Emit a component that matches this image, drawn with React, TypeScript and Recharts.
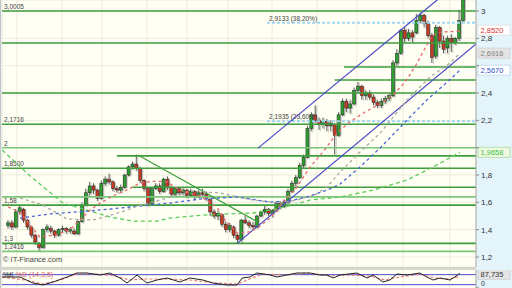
import React from "react";
import { Bar, CartesianGrid, ComposedChart, Line, ReferenceLine, XAxis, YAxis } from "recharts";

// daily candles, oldest first
const opens = [
  1.43, 1.45, 1.42, 1.53, 1.55, 1.47, 1.42, 1.36, 1.3, 1.27,
  1.4, 1.41, 1.39, 1.36, 1.4, 1.41, 1.39, 1.39, 1.37, 1.46,
  1.58, 1.67, 1.72, 1.69, 1.63, 1.74, 1.77, 1.75, 1.7, 1.69,
  1.71, 1.8, 1.86, 1.88, 1.85, 1.76, 1.7, 1.59, 1.7, 1.72,
  1.68, 1.77, 1.71, 1.66, 1.7, 1.67, 1.69, 1.65, 1.68, 1.64,
  1.67, 1.66, 1.62, 1.53, 1.5, 1.51, 1.44, 1.4, 1.42, 1.36,
  1.33, 1.47, 1.45, 1.43, 1.42, 1.5, 1.53, 1.55, 1.52, 1.54,
  1.59, 1.57, 1.6, 1.68, 1.74, 1.78, 1.87, 1.93, 2.14, 2.24,
  2.2, 2.17, 2.19, 2.16, 2.17, 2.09, 2.24, 2.34, 2.29, 2.32,
  2.42, 2.45, 2.38, 2.4, 2.37, 2.33, 2.31, 2.34, 2.36, 2.38,
  2.62, 2.69, 2.86, 2.8, 2.84, 2.84, 2.93, 2.97, 2.91, 2.82,
  2.67, 2.88, 2.78, 2.73, 2.8, 2.77, 2.8, 2.93,
];
const closes = [
  1.45, 1.42, 1.53, 1.56, 1.47, 1.42, 1.36, 1.31, 1.27, 1.4,
  1.42, 1.39, 1.36, 1.4, 1.41, 1.39, 1.4, 1.37, 1.46, 1.58,
  1.67, 1.72, 1.69, 1.63, 1.74, 1.77, 1.75, 1.7, 1.69, 1.71,
  1.8, 1.86, 1.88, 1.85, 1.76, 1.7, 1.59, 1.7, 1.72, 1.68,
  1.77, 1.71, 1.66, 1.7, 1.67, 1.69, 1.65, 1.68, 1.64, 1.67,
  1.66, 1.63, 1.53, 1.5, 1.52, 1.44, 1.4, 1.43, 1.36, 1.33,
  1.47, 1.45, 1.43, 1.42, 1.5, 1.53, 1.55, 1.52, 1.54, 1.59,
  1.57, 1.6, 1.68, 1.74, 1.78, 1.87, 1.93, 2.14, 2.24, 2.2,
  2.17, 2.19, 2.16, 2.18, 2.09, 2.24, 2.34, 2.29, 2.32, 2.42,
  2.45, 2.38, 2.4, 2.37, 2.33, 2.31, 2.34, 2.36, 2.38, 2.62,
  2.69, 2.86, 2.8, 2.84, 2.81, 2.93, 2.97, 2.91, 2.82, 2.66,
  2.88, 2.78, 2.72, 2.8, 2.77, 2.8, 2.93, 3.1,
];
const highs = [
  1.47, 1.47, 1.55, 1.58, 1.56, 1.48, 1.43, 1.37, 1.31, 1.41,
  1.44, 1.43, 1.4, 1.41, 1.43, 1.42, 1.42, 1.41, 1.47, 1.6,
  1.7, 1.75, 1.74, 1.7, 1.76, 1.79, 1.81, 1.76, 1.72, 1.73,
  1.81, 1.87, 1.9, 1.95, 1.86, 1.77, 1.71, 1.71, 1.74, 1.74,
  1.78, 1.79, 1.72, 1.71, 1.71, 1.71, 1.7, 1.7, 1.69, 1.69,
  1.7, 1.68, 1.63, 1.55, 1.54, 1.52, 1.46, 1.45, 1.43, 1.37,
  1.48, 1.5, 1.47, 1.46, 1.51, 1.54, 1.58, 1.56, 1.55, 1.61,
  1.61, 1.62, 1.7, 1.76, 1.8, 1.89, 1.95, 2.16, 2.26, 2.31,
  2.22, 2.22, 2.21, 2.2, 2.18, 2.26, 2.36, 2.36, 2.35, 2.44,
  2.48, 2.46, 2.42, 2.42, 2.39, 2.35, 2.36, 2.38, 2.4, 2.64,
  2.72, 2.87, 2.88, 2.87, 2.86, 2.98, 2.99, 2.98, 2.93, 2.84,
  2.9, 2.89, 2.82, 2.82, 2.83, 2.81, 3.01, 3.12,
];
const lows = [
  1.41, 1.4, 1.41, 1.51, 1.45, 1.4, 1.34, 1.29, 1.24, 1.26,
  1.38, 1.37, 1.34, 1.35, 1.38, 1.37, 1.37, 1.36, 1.36, 1.45,
  1.57, 1.65, 1.66, 1.61, 1.62, 1.72, 1.73, 1.68, 1.67, 1.67,
  1.7, 1.79, 1.84, 1.83, 1.74, 1.68, 1.57, 1.58, 1.69, 1.66,
  1.67, 1.69, 1.64, 1.64, 1.65, 1.65, 1.63, 1.64, 1.62, 1.63,
  1.64, 1.61, 1.5, 1.48, 1.47, 1.42, 1.38, 1.38, 1.34, 1.3,
  1.31, 1.44, 1.41, 1.4, 1.41, 1.49, 1.51, 1.5, 1.49, 1.53,
  1.55, 1.56, 1.59, 1.67, 1.72, 1.77, 1.85, 1.92, 2.12, 2.18,
  2.13, 2.14, 2.12, 2.12, 1.95, 2.08, 2.23, 2.26, 2.25, 2.31,
  2.4, 2.35, 2.35, 2.35, 2.31, 2.29, 2.29, 2.32, 2.34, 2.37,
  2.6, 2.68, 2.77, 2.78, 2.77, 2.83, 2.91, 2.88, 2.8, 2.62,
  2.65, 2.73, 2.69, 2.69, 2.7, 2.75, 2.78, 2.92,
];

// moving averages, [candle index, value]
const maRed: [number, number][] = [
  [0, 1.566], [3.1, 1.529], [5.7, 1.434], [8.2, 1.346], [12.1, 1.361], [15.9, 1.398],
  [18.5, 1.471], [21.1, 1.544], [23.7, 1.595], [27.5, 1.654], [30.6, 1.69], [33.9, 1.741],
  [37.8, 1.756], [40.9, 1.749], [44.2, 1.69], [49.4, 1.646], [53.7, 1.566], [55.8, 1.471],
  [58.9, 1.376], [62.2, 1.383], [64.8, 1.427], [67.4, 1.485], [71.2, 1.617], [74.3, 1.712],
  [77.7, 1.859], [81, 1.968], [84.6, 2.107], [87.9, 2.188], [91.8, 2.261], [95.7, 2.32],
  [99, 2.385], [102.1, 2.48], [104.9, 2.605], [107, 2.715], [109, 2.817], [111.3, 2.846],
  [116.2, 2.852],
];
const maGray: [number, number][] = [
  [3.1, 1.631], [9, 1.58], [15.2, 1.478], [21.9, 1.471], [27.5, 1.515], [32.7, 1.566],
  [39.1, 1.617], [46.8, 1.683], [54.5, 1.668], [63, 1.617], [69.9, 1.595], [74.3, 1.617],
  [78.9, 1.654], [82, 1.712], [85.4, 1.822], [90.5, 1.968], [95.7, 2.107], [102.6, 2.349],
  [108.5, 2.517], [113.7, 2.62], [116.2, 2.6916],
];
const maBlue: [number, number][] = [
  [3.1, 1.485], [10.8, 1.515], [21.1, 1.537], [31.4, 1.566], [41.7, 1.595], [49.4, 1.624],
  [58.9, 1.639], [67.4, 1.602], [72.5, 1.61], [77.7, 1.646], [82.8, 1.698], [85.4, 1.734],
  [90.5, 1.859], [95.7, 1.998], [102.6, 2.202], [107.7, 2.349], [112.4, 2.466], [116.2, 2.567],
];
const maGreen: [number, number][] = [
  [-1.5, 1.983], [5.7, 1.793], [14.1, 1.595], [19.3, 1.551], [26.2, 1.493], [32.1, 1.463],
  [38.3, 1.463], [41.7, 1.485], [50.1, 1.507], [56.3, 1.515], [63, 1.522], [67.4, 1.544],
  [73.3, 1.58], [77.7, 1.617], [85.4, 1.639], [93.9, 1.69], [102.6, 1.763], [109.3, 1.859],
  [116.2, 1.9658],
];

// stochastic %K / %D (14,3,5)
const stochK: [number, number][] = [
  [-1.5, 66], [3.1, 66], [6.4, 30], [9, 18], [11.6, 36], [15.2, 66], [17.7, 90], [20.3, 90],
  [23.7, 78], [26.2, 90], [28.8, 60], [30.6, 30], [33.2, 78], [35.7, 30], [38.3, 48], [40.9, 60],
  [44.2, 36], [46.8, 60], [50.1, 48], [52.7, 30], [56.3, 18], [58.9, 18], [60.2, 60], [62.2, 66],
  [64, 90], [67.4, 78], [69.2, 66], [71.7, 78], [74.3, 90], [77.7, 90], [80.2, 78], [82, 78],
  [83.6, 60], [85.4, 78], [89.7, 90], [92.3, 60], [93.9, 78], [96.4, 36], [98.2, 48], [100, 84],
  [102.6, 78], [105.9, 90], [107.7, 66], [109.3, 48], [111.1, 60], [113.7, 48], [116.2, 87.7],
];
const stochD: [number, number][] = [
  [-1.5, 66], [4.4, 48], [9, 24], [13.4, 48], [17.7, 84], [23.7, 84], [27.5, 72], [31.4, 48],
  [35.2, 54], [40.4, 54], [46.8, 48], [53.2, 30], [58.9, 24], [62.2, 54], [65.3, 84], [71.2, 78],
  [77.7, 90], [82.8, 72], [87.9, 78], [93.1, 72], [96.9, 48], [100.8, 66], [105.9, 84],
  [109.8, 60], [113.7, 54], [116.2, 70],
];

// support / resistance levels: value, first candle index, tag
const levelValues = [3.0005, 2.766, 2.59, 2.495, 2.4, 2.1716, 2, 1.94, 1.85, 1.71, 1.64, 1.58, 1.3, 1.2416];
const levelStarts = [-2, -2, 86.4, 84, -2, -2, -2, 28, -2, 32, -2, -2, -2, -2];
const levelTags = ["3,0005", "", "", "", "", "2,1716", "2", "", "1,8500", "", "", "1,58", "1,3", "1,2416"];

const fibValues = [2.9133, 2.1935];
const fibTags = ["2,9133 (38,20%)", "2,1935 (23,60%)"];
const fibStart = 66.6;

// trend lines [x1, y1, x2, y2] in candle index / price
const channelLines = [
  [64.3, 1.997, 115, 3.19],
  [58.9, 1.3, 121, 2.774],
];
const downTrend = [33.4, 1.946, 64.3, 1.455];

const gridIdx = [2.3, 13.9, 24.2, 35.7, 46, 56.6, 67.9, 79.5, 89.7, 101.6, 113.6];
const priceTicks = [1.2, 1.4, 1.6, 1.8, 2, 2.2, 2.4, 2.6, 2.8, 3];
// tick labels hidden behind the value boxes
const coveredTicks = [2, 2.6];

const X_MIN = -1.54;
const X_MAX = 120.34;
const Y_MIN = 1.127;
const Y_MAX = 3.0805;

const FONT = "Liberation Sans, Arial, sans-serif";

const candles = opens.map((o, i) => ({
  i,
  o,
  c: closes[i],
  h: highs[i],
  l: lows[i],
  range: [lows[i], highs[i]],
}));

const toPts = (arr: [number, number][]) => arr.map(([i, v]) => ({ i, v }));

const Candle = (props: any) => {
  const { x, y, width, height, payload } = props;
  if (payload == null || height == null) return null;
  const top0 = height < 0 ? y + height : y;
  const hh = Math.abs(height);
  const { o, c, h, l } = payload;
  const span = h - l || 1;
  const py = (v: number) => top0 + ((h - v) / span) * hh;
  const cx = x + width / 2;
  const up = c >= o;
  const bTop = py(Math.max(o, c));
  const bH = Math.max(1, py(Math.min(o, c)) - bTop);
  return (
    <g>
      <line x1={cx + 1.5} x2={cx + 1.5} y1={top0 + 1} y2={top0 + hh + 1} stroke="#c6c6c0" strokeWidth={1} />
      <rect x={cx - 0.5} y={bTop + 1} width={3.5} height={bH} fill="#c6c6c0" />
      <line x1={cx} x2={cx} y1={top0} y2={top0 + hh} stroke="#333" strokeWidth={0.8} />
      <rect x={cx - 1.5} y={bTop} width={3} height={bH} fill={up ? "#2e9e2e" : "#c83a22"} stroke="#222" strokeWidth={0.5} />
    </g>
  );
};

const tagLabel = (text: string) => (p: any) => (
  <text x={p.viewBox.x + 2} y={p.viewBox.y - 2} fontSize={6.5} fill="#444" fontFamily={FONT}>
    {text}
  </text>
);

const boxLabel = (text: string, color: string, bg: string, border: string, dy = 0) => (p: any) => {
  const x = p.viewBox.x + p.viewBox.width + 2;
  const y = p.viewBox.y + dy;
  return (
    <g>
      <rect x={x} y={y - 5} width={32} height={10} fill={bg} stroke={border} strokeWidth={1} />
      <text x={x + 2.5} y={y + 2.8} fontSize={7.5} fill={color} fontFamily={FONT}>
        {text}
      </text>
    </g>
  );
};

const fmtPrice = (v: number) =>
  coveredTicks.includes(v) ? "" : String(Number(v.toFixed(1))).replace(".", ",");

const lightLevels = [2, 1.64, 1.2416];

export default function App() {
  return (
    <div style={{ position: "absolute", left: 0, top: 0, width: 512, height: 288, background: "#e3f4fb", overflow: "hidden" }}>
      <div style={{ position: "absolute", left: 0, top: 0 }}>
        <ComposedChart width={512} height={267} data={candles} margin={{ top: 0, right: 0, bottom: 0, left: 2 }}>
          <CartesianGrid fill="#fffff3" stroke="#ecebdc" />
          <XAxis dataKey="i" type="number" domain={[X_MIN, X_MAX]} allowDataOverflow hide ticks={gridIdx} interval={0} />
          <YAxis
            orientation="right"
            width={36}
            domain={[Y_MIN, Y_MAX]}
            allowDataOverflow
            ticks={priceTicks}
            interval={0}
            tickFormatter={fmtPrice}
            tick={{ fontSize: 8, fill: "#333", fontFamily: FONT }}
            tickSize={3}
            tickLine={{ stroke: "#888" }}
            axisLine={{ stroke: "#aaa" }}
          />
          {levelValues.map((v, k) => (
            <ReferenceLine
              key={"lv" + k}
              segment={[{ x: Math.max(levelStarts[k], X_MIN), y: v }, { x: X_MAX, y: v }]}
              stroke={lightLevels.includes(v) ? "#7cc67c" : "#3e9e3e"}
              strokeWidth={1.6}
              ifOverflow="visible"
              label={levelTags[k] ? tagLabel(levelTags[k]) : undefined}
            />
          ))}
          {fibValues.map((v, k) => (
            <ReferenceLine
              key={"fb" + k}
              segment={[{ x: fibStart, y: v }, { x: X_MAX, y: v }]}
              stroke="#9fd6f2"
              strokeWidth={2}
              strokeDasharray="3 2"
              ifOverflow="visible"
              label={tagLabel(fibTags[k])}
            />
          ))}
          {channelLines.map((s, k) => (
            <ReferenceLine
              key={"ch" + k}
              segment={[{ x: s[0], y: s[1] }, { x: s[2], y: s[3] }]}
              stroke="#4848c8"
              strokeWidth={1.2}
              ifOverflow="hidden"
            />
          ))}
          <ReferenceLine
            segment={[{ x: downTrend[0], y: downTrend[1] }, { x: downTrend[2], y: downTrend[3] }]}
            stroke="#3ea03e"
            strokeWidth={1.2}
            ifOverflow="hidden"
          />
          <Line data={toPts(maGreen)} dataKey="v" stroke="#5ccc5c" strokeWidth={1.3} strokeDasharray="4 3" dot={false} isAnimationActive={false} />
          <Line data={toPts(maBlue)} dataKey="v" stroke="#4a64d8" strokeWidth={1.3} strokeDasharray="3 3" dot={false} isAnimationActive={false} />
          <Line data={toPts(maGray)} dataKey="v" stroke="#a9a9a2" strokeWidth={1.3} strokeDasharray="3 3" dot={false} isAnimationActive={false} />
          <Line data={toPts(maRed)} dataKey="v" stroke="#e26a6a" strokeWidth={1.3} strokeDasharray="3 3" dot={false} isAnimationActive={false} />
          <Bar dataKey="range" barSize={3} isAnimationActive={false} shape={(p: any) => <Candle {...p} />} />
          <ReferenceLine y={2.852} stroke="none" ifOverflow="visible" label={boxLabel("2,8520", "#e03030", "#ffffff", "#e4e4e4", -1)} />
          <ReferenceLine y={2.6916} stroke="none" ifOverflow="visible" label={boxLabel("2,6916", "#808080", "#e4e4e4", "#d4d4d4")} />
          <ReferenceLine y={2.567} stroke="none" ifOverflow="visible" label={boxLabel("2,5670", "#2f4fd0", "#ffffff", "#c8dcf0")} />
          <ReferenceLine y={1.9658} stroke="none" ifOverflow="visible" label={boxLabel("1,9658", "#3cbc3c", "#eefae4", "#b8e0a8")} />
        </ComposedChart>
      </div>
      <div style={{ position: "absolute", left: 0, top: 0, width: 1, height: 288, background: "#c4c4c4" }} />
      <div style={{ position: "absolute", left: 3, top: 255, fontSize: 7.5, color: "#444", fontFamily: FONT, lineHeight: "10px" }}>
        © IT-Finance.com
      </div>
      <div style={{ position: "absolute", left: 0, top: 267, width: 476, height: 3, background: "#d6d6d0" }} />
      <div style={{ position: "absolute", left: 0, top: 270 }}>
        <ComposedChart width={512} height={18} margin={{ top: 0, right: 0, bottom: 0, left: 2 }}>
          <CartesianGrid fill="#fffff3" stroke="#ecebdc" horizontal={false} />
          <XAxis dataKey="i" type="number" domain={[X_MIN, X_MAX]} allowDataOverflow hide ticks={gridIdx} interval={0} />
          <YAxis
            orientation="right"
            width={36}
            domain={[0, 108]}
            allowDataOverflow
            ticks={[0]}
            tick={{ fontSize: 7, fill: "#333", fontFamily: FONT }}
            tickSize={3}
            axisLine={{ stroke: "#aaa" }}
          />
          <ReferenceLine y={80} stroke="#4a4ad0" strokeWidth={1} />
          <ReferenceLine y={20} stroke="#4a4ad0" strokeWidth={1} />
          <Line data={toPts(stochD)} dataKey="v" stroke="#e88080" strokeWidth={1.2} strokeDasharray="3 2" dot={false} isAnimationActive={false} />
          <Line data={toPts(stochK)} dataKey="v" stroke="#222" strokeWidth={1} dot={false} isAnimationActive={false} />
          <ReferenceLine y={87.735} stroke="none" ifOverflow="visible" label={boxLabel("87,735", "#333", "#e4e4e4", "#d4d4d4", 1)} />
        </ComposedChart>
      </div>
      <div style={{ position: "absolute", left: 3, top: 270, fontSize: 7, fontFamily: FONT, lineHeight: "9px" }}>
        <span style={{ color: "#222" }}>%K </span>
        <span style={{ color: "#e06a6a" }}>%D (14,3,5)</span>
      </div>
    </div>
  );
}
